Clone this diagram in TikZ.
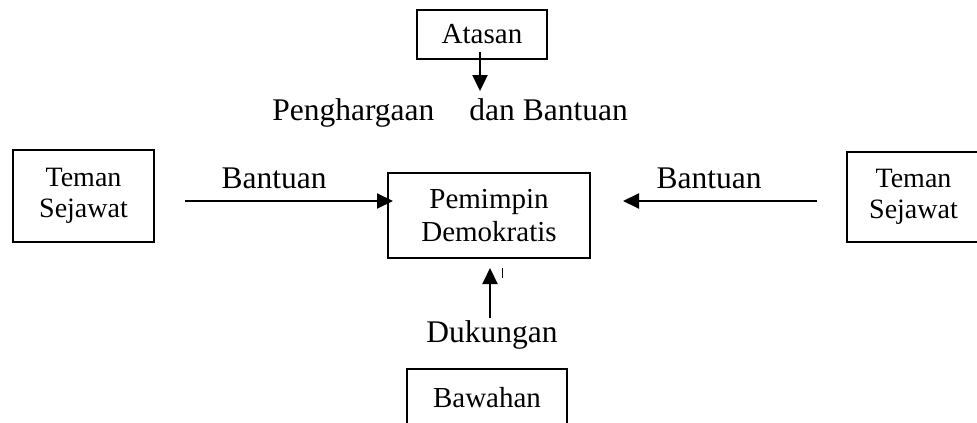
\documentclass[tikz,border=0pt]{standalone}
\usepackage{fontspec}
\setmainfont{Liberation Serif}
\usetikzlibrary{positioning, arrows.meta}

\begin{document}
\begin{tikzpicture}
    [box/.style={draw, line width=1.2pt, align=center, inner sep=0pt, outer sep=0pt,
                 font=\fontsize{14.5}{16.5}\selectfont},
     txt/.style={font=\fontsize{15.75}{18}\selectfont},
     arr/.style={draw=black, line width=1pt, -{Triangle[length=8pt, width=7.5pt]}},
    ]
    \useasboundingbox (0,0) rectangle (488.5pt,-211pt);

    \node (leader) [box, minimum width=101pt, minimum height=42.5pt]
        at (244.5pt,-107.75pt) {Pemimpin\\Demokratis};
    \node (superior) [box, minimum width=65pt, minimum height=24.5pt,
        above=57pt of leader, xshift=-3.5pt] {Atasan};
    \node (peerleft) [box, minimum width=70.5pt, minimum height=46pt,
        font=\fontsize{14}{15.4}\selectfont,
        left=117pt of leader, yshift=9.75pt] {Teman\\Sejawat};
    \node (peerright) [box, minimum width=66.5pt, minimum height=45pt,
        font=\fontsize{14}{15.4}\selectfont,
        right=128.5pt of leader, yshift=9.25pt] {Teman\\Sejawat};
    \node (staff) [box, minimum width=80pt, minimum height=29pt,
        below=55.5pt of leader, xshift=-1pt] {Bawahan};

    % labels
    \node (reward) [txt, anchor=base] at ([xshift=-16pt,yshift=-43.25pt]superior.center)
        {Penghargaan\hspace{17.5pt}dan Bantuan};
    \node (helpleft) [txt, anchor=base] at ([xshift=60pt,yshift=4pt]peerleft.east) {Bantuan};
    \node (helpright) [txt, anchor=base] at ([xshift=-69pt,yshift=4.5pt]peerright.west) {Bantuan};
    \node (support) [txt, anchor=base] at ([xshift=2.5pt,yshift=13.5pt]staff.north) {Dukungan};

    \coordinate (helpleft tail) at ([xshift=15.5pt,yshift=-2.5pt]peerleft.east);
    \coordinate (helpright tail) at ([xshift=-15pt,yshift=-2pt]peerright.west);

    \draw [arr, shorten <=-3.5pt, shorten >=0.5pt]
        ([xshift=-1pt]superior.south) -- ([xshift=-1pt]superior.south |- reward.north);
    \draw [arr, shorten >=-2.5pt] (helpleft tail) -- (helpleft tail -| leader.west);
    \draw [arr, shorten >=16.5pt] (helpright tail) -- (helpright tail -| leader.east);
    \draw [arr, shorten <=-2.5pt, shorten >=5pt]
        ([xshift=0.5pt]leader.south |- support.north) -- ([xshift=0.5pt]leader.south);

    \draw [line width=0.5pt] ([xshift=6.5pt,yshift=-5pt]leader.south) -- ++(0,-5pt);

\end{tikzpicture}
\end{document}
